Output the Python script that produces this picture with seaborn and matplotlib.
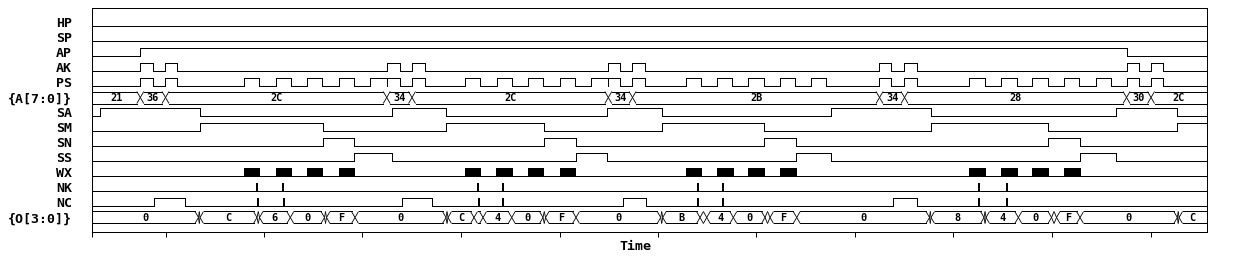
import numpy as np
import pandas as pd
import matplotlib
matplotlib.use("Agg")
import matplotlib.pyplot as plt
import seaborn as sns

# ---------------- data (times, in time units) ----------------
signals = ["HP", "SP", "AP", "AK", "PS", "{A[7:0]}", "SA", "SM", "SN", "SS",
           "WX", "NK", "NC", "{O[3:0]}"]

T_START, T_END = 92.3, 1205.5

hp_high = []
sp_high = []
ap_high = [(140.3, 1126.7)]
ak_high = [(140.3, 152.5), (165.3, 177.3), (387.0, 400.0), (412.0, 425.0),
           (608.3, 620.0), (632.3, 645.0), (879.3, 891.0), (904.0, 916.5),
           (1126.7, 1139.0), (1150.5, 1162.5)]
ps_high = [(140.3, 152.5), (165.3, 177.3),
           (244.3, 259.0), (275.5, 290.5), (307.0, 322.0), (339.0, 354.0), (370.3, 387.0),
           (387.0, 400.0), (412.0, 425.0),
           (465.3, 480.0), (496.5, 511.7), (528.2, 543.3), (559.7, 575.0), (591.2, 607.8),
           (608.3, 620.0), (632.3, 645.0),
           (686.0, 700.5), (716.7, 732.0), (748.3, 763.5), (779.5, 795.2), (810.5, 826.0),
           (879.3, 891.0), (904.0, 916.5),
           (969.3, 985.0), (1001.2, 1016.7), (1032.3, 1047.5), (1063.7, 1078.5), (1095.5, 1110.5),
           (1126.7, 1139.0), (1150.5, 1162.5)]
sa_high = [(100.0, 200.3), (392.3, 446.0), (607.3, 661.7), (831.3, 931.3), (1116.3, 1177.3)]
sm_high = [(200.3, 323.3), (446.0, 544.3), (661.7, 764.3), (931.3, 1048.3), (1177.3, T_END)]
sn_high = [(323.3, 354.3), (544.3, 575.7), (764.3, 795.7), (1048.3, 1079.7)]
ss_high = [(354.3, 392.3), (575.7, 607.3), (795.7, 831.3), (1079.7, 1116.3)]
wx_blocks = [(244.3, 259.3), (275.7, 291.0), (307.0, 322.3), (339.0, 354.0),
             (465.3, 480.0), (496.3, 512.3), (528.0, 543.3), (560.0, 575.0),
             (685.7, 701.0), (716.7, 732.7), (748.3, 764.0), (780.0, 795.7),
             (969.3, 984.7), (1001.3, 1016.7), (1032.3, 1048.3), (1064.0, 1079.7)]
nk_spikes = [256.3, 282.3, 477.3, 501.5, 696.5, 721.5, 977.5, 1005.5]
nc_high = [(154.3, 185.3), (401.5, 431.5), (623.3, 646.3), (893.3, 916.5)]
nc_spikes = [256.8, 282.8, 477.6, 501.8, 696.8, 721.8, 978.0, 1006.0]

a_times = [140.3, 165.5, 386.7, 412.0, 608.3, 632.5, 879.5, 904.5, 1126.5, 1151.0]
a_values = ["21", "36", "2C", "34", "2C", "34", "2B", "34", "28", "30", "2C"]

o_times = [198.5, 200.0, 257.0, 259.5, 290.3, 324.5, 326.5, 355.0, 446.0, 448.0,
           474.0, 483.0, 511.7, 543.0, 545.5, 576.0, 660.7, 662.7, 700.0, 706.7,
           733.3, 765.0, 770.0, 796.7, 929.5, 931.0, 984.0, 986.0, 1018.3, 1051.5,
           1056.5, 1080.0, 1177.3, 1179.0]
o_values = ["0", "", "C", "", "6", "0", "", "F", "0", "", "C", "", "4", "0", "", "F",
            "0", "", "B", "", "4", "0", "", "F", "0", "", "8", "", "4", "0", "", "F",
            "0", "", "C"]

x_ticks = [92.3, 165.7, 263.8, 362.3, 461.0, 559.5, 657.8, 756.3, 854.7, 953.3, 1052.2, 1150.7]

# ---------------- style ----------------
sns.set_theme(style="white")
plt.rcParams["font.family"] = ["DejaVu Sans Mono", "DejaVu Sans"]
plt.rcParams["lines.antialiased"] = False

LW = 0.72        # 1 pixel
AMP = 0.257      # half-swing of a digital trace (row units)
BUS_TOP = 0.38   # bus upper edge above row centre
BUS_BOT = 0.42   # bus lower edge below row centre
SLOPE = 3.5      # half-width of a bus crossing (time units)
SPIKE_W = 1.0


def step_trace(row, intervals):
    lo, hi = row + AMP, row - AMP
    pts = [(T_START, lo)]
    for a, b in sorted(intervals):
        b = min(b, T_END)
        pts += [(a, lo), (a, hi), (b, hi), (b, lo) if b < T_END else (b, hi)]
    if pts[-1][0] < T_END:
        pts.append((T_END, lo))
    return pts


rows = []
digital = {"HP": hp_high, "SP": sp_high, "AP": ap_high, "AK": ak_high, "PS": ps_high,
           "SA": sa_high, "SM": sm_high, "SN": sn_high, "SS": ss_high, "WX": [],
           "NK": [(s, s + SPIKE_W) for s in nk_spikes],
           "NC": nc_high + [(s, s + SPIKE_W) for s in nc_spikes]}
for name, ivals in digital.items():
    r = signals.index(name)
    for k, (t, y) in enumerate(step_trace(r, ivals)):
        rows.append({"signal": name, "order": k, "t": t, "y": y})
df = pd.DataFrame(rows)

fig = plt.figure(figsize=(12.34, 2.68), dpi=100)
ax = fig.add_axes([0.0748, 0.1332, 0.9036, 0.8358])

sns.lineplot(data=df, x="t", y="y", units="signal", estimator=None, sort=False,
             color="black", linewidth=LW, antialiased=False, ax=ax)

# WX filled blocks
r_wx = signals.index("WX")
ax.broken_barh([(a, b - a) for a, b in wx_blocks], (r_wx - AMP, 2 * AMP),
               facecolors="black", edgecolors="black", linewidth=0.5, antialiased=False)


def draw_bus(row, times, values):
    edges = [T_START] + list(times) + [T_END]
    top, bot = row - BUS_TOP, row + BUS_BOT
    mid = (top + bot) / 2.0
    flat_kw = dict(color="black", linewidth=LW, antialiased=False, solid_capstyle="butt")
    slant_kw = dict(color="black", linewidth=0.6, antialiased=True, solid_capstyle="butt")
    for i, val in enumerate(values):
        a, b = edges[i], edges[i + 1]
        d = min(SLOPE, (b - a) / 2.0)
        da = 0.0 if i == 0 else d
        db = 0.0 if i == len(values) - 1 else d
        # flat edges (rectilinear -> pixel snapped)
        if (b - db) > (a + da):
            ax.plot([a + da, b - db], [top, top], **flat_kw)
            ax.plot([a + da, b - db], [bot, bot], **flat_kw)
        # slanted edges
        if da > 0:
            ax.plot([a, a + da], [mid, top], **slant_kw)
            ax.plot([a, a + da], [mid, bot], **slant_kw)
        if db > 0:
            ax.plot([b - db, b], [top, mid], **slant_kw)
            ax.plot([b - db, b], [bot, mid], **slant_kw)
        if val:
            ax.text((a + b) / 2.0, mid + 0.02, val, ha="center", va="center",
                    fontsize=7.4, fontweight="bold", color="black",
                    family=["DejaVu Sans Mono", "DejaVu Sans"])


draw_bus(signals.index("{A[7:0]}"), a_times, a_values)
draw_bus(signals.index("{O[3:0]}"), o_times, o_values)

# ---------------- axes ----------------
ax.set_xlim(92.3, 1207.3)
ax.set_ylim(14.007, -0.927)
ax.set_yticks(range(len(signals)))
ax.set_yticklabels(signals, fontsize=9.5, fontweight="bold", color="black",
                   family=["DejaVu Sans Mono", "DejaVu Sans"])
ax.set_xticks(x_ticks)
ax.tick_params(axis="x", direction="out", length=3.8, width=LW, color="black",
               labelbottom=False, bottom=True)
ax.tick_params(axis="y", length=0, pad=14.6)
ax.set_ylabel("")
ax.set_xlabel("Time", fontsize=9.5, fontweight="bold", color="black",
              family=["DejaVu Sans Mono", "DejaVu Sans"])
ax.xaxis.label.set_va("center")
ax.xaxis.set_label_coords((635 - 92.3) / 1115.0, -0.064)
for s in ax.spines.values():
    s.set_visible(True)
    s.set_color("black")
    s.set_linewidth(LW)
ax.grid(False)
ax.set_facecolor("white")
fig.patch.set_facecolor("white")

fig.savefig("out.png", dpi=100)
